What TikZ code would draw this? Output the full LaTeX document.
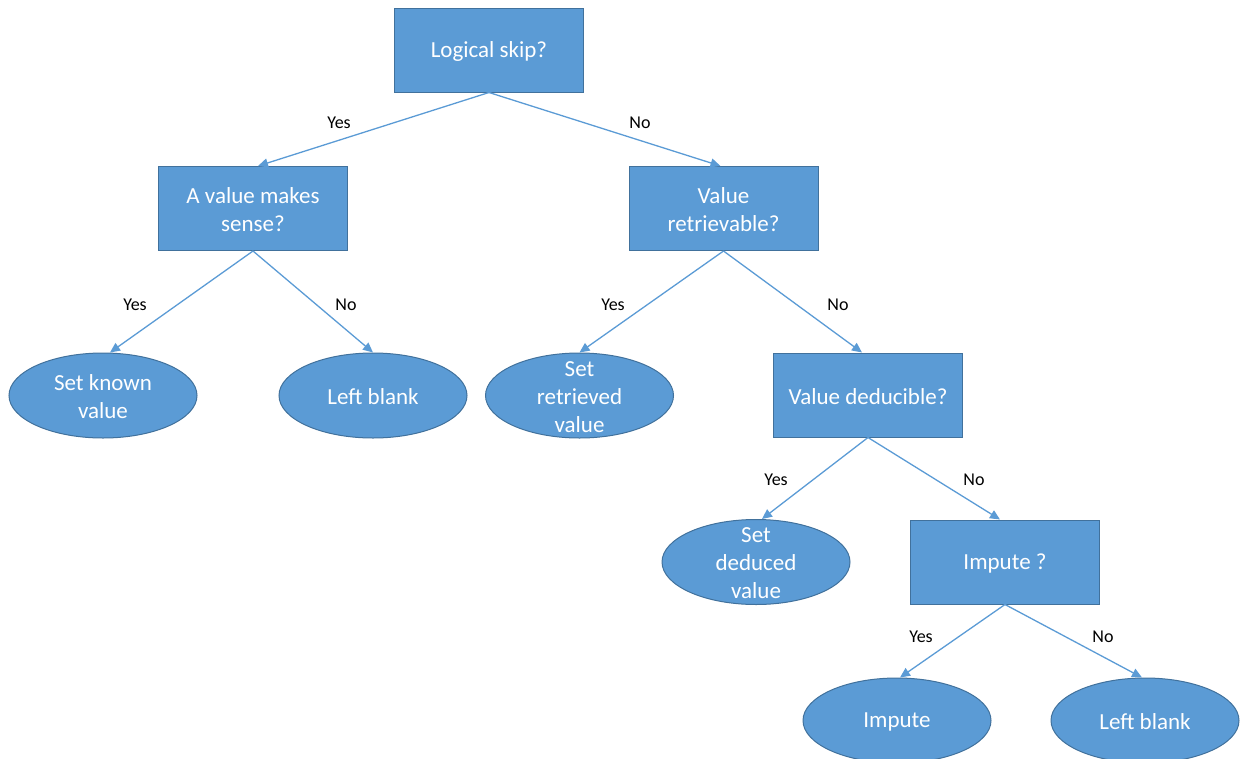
\documentclass[tikz,border=0pt]{standalone}
\usepackage{fontspec}
\setmainfont{Carlito}
\usetikzlibrary{shapes.geometric,arrows.meta}
\definecolor{boxfill}{HTML}{5B9BD5}
\definecolor{boxline}{HTML}{41719C}
\definecolor{linkcol}{HTML}{5B9BD5}
\begin{document}
\begin{tikzpicture}[x=1pt,y=-1pt,
  question/.style={rectangle,draw=boxline,fill=boxfill,line width=1pt,
    minimum width=189pt,minimum height=84pt,inner sep=0pt},
  outcome/.style={ellipse,draw=boxline,fill=boxfill,line width=1pt,
    minimum width=188pt,minimum height=85pt,inner sep=0pt},
  caption/.style={text=white,align=center,inner sep=0pt,yshift=-1.5pt,
    font=\fontsize{23}{28}\selectfont},
  link/.style={draw=linkcol,line width=1.3pt,-{Triangle[length=10pt,width=9pt]}},
  answer/.style={font=\fontsize{18}{20}\selectfont,text=black,inner sep=0pt}]
\useasboundingbox (0,0) rectangle (1240,758);

% decision boxes
\node[question] (skip) at (489,50) {};
\node[caption] (skip-t) at (skip) {Logical skip?};
\node[question] (sense) at (253,208.5) {};
\node[caption] (sense-t) at (sense) {A value makes\\sense?};
\node[question] (retr) at (723.5,208.5) {};
\node[caption] (retr-t) at (retr) {Value\\retrievable?};
\node[question] (ded) at (868,395) {};
\node[caption] (ded-t) at (ded) {Value deducible?};
\node[question] (imp) at (1005,562) {};
\node[caption] (imp-t) at (imp) {Impute ?};

% outcomes
\node[outcome] (known) at (103,395.5) {};
\node[caption] (known-t) at (known) {Set known\\value};
\node[outcome] (blank1) at (373,395.5) {};
\node[caption] (blank1-t) at (blank1) {Left blank};
\node[outcome] (setr) at (579.5,395.5) {};
\node[caption] (setr-t) at (setr) {Set\\retrieved\\value};
\node[outcome] (setd) at (756,562) {};
\node[caption] (setd-t) at (setd) {Set\\deduced\\value};
\node[outcome] (impo) at (897,720.5) {};
\node[caption] (impo-t) at (impo) {Impute};
\node[outcome] (blank2) at (1145,720.5) {};
\node[caption] (blank2-t) at (blank2) {Left blank};

% connectors
\draw[link] (skip.south) -- ([xshift=5pt]sense.north);
\draw[link] (skip.south) -- ([xshift=-3pt]retr.north);
\draw[link] (sense.south) -- ([xshift=7pt]known.north);
\draw[link] (sense.south) -- (blank1.north);
\draw[link] (retr.south) -- (setr.north);
\draw[link] (retr.south) -- ([xshift=-6pt]ded.north);
\draw[link] (ded.south) -- ([xshift=6pt]setd.north);
\draw[link] (ded.south) -- ([xshift=-5pt]imp.north);
\draw[link] (imp.south) -- ([xshift=3pt]impo.north);
\draw[link] (imp.south) -- ([xshift=-3pt]blank2.north);

% branch answers
\node[answer] (a1) at (339,122.5) {Yes};
\node[answer] (a2) at (640,122.5) {No};
\node[answer] (a3) at (135,304.5) {Yes};
\node[answer] (a4) at (346,304.5) {No};
\node[answer] (a5) at (613,304.5) {Yes};
\node[answer] (a6) at (838,304.5) {No};
\node[answer] (a7) at (776,479.5) {Yes};
\node[answer] (a8) at (974,479.5) {No};
\node[answer] (a9) at (921,636.5) {Yes};
\node[answer] (a10) at (1103,636.5) {No};
\end{tikzpicture}
\end{document}
